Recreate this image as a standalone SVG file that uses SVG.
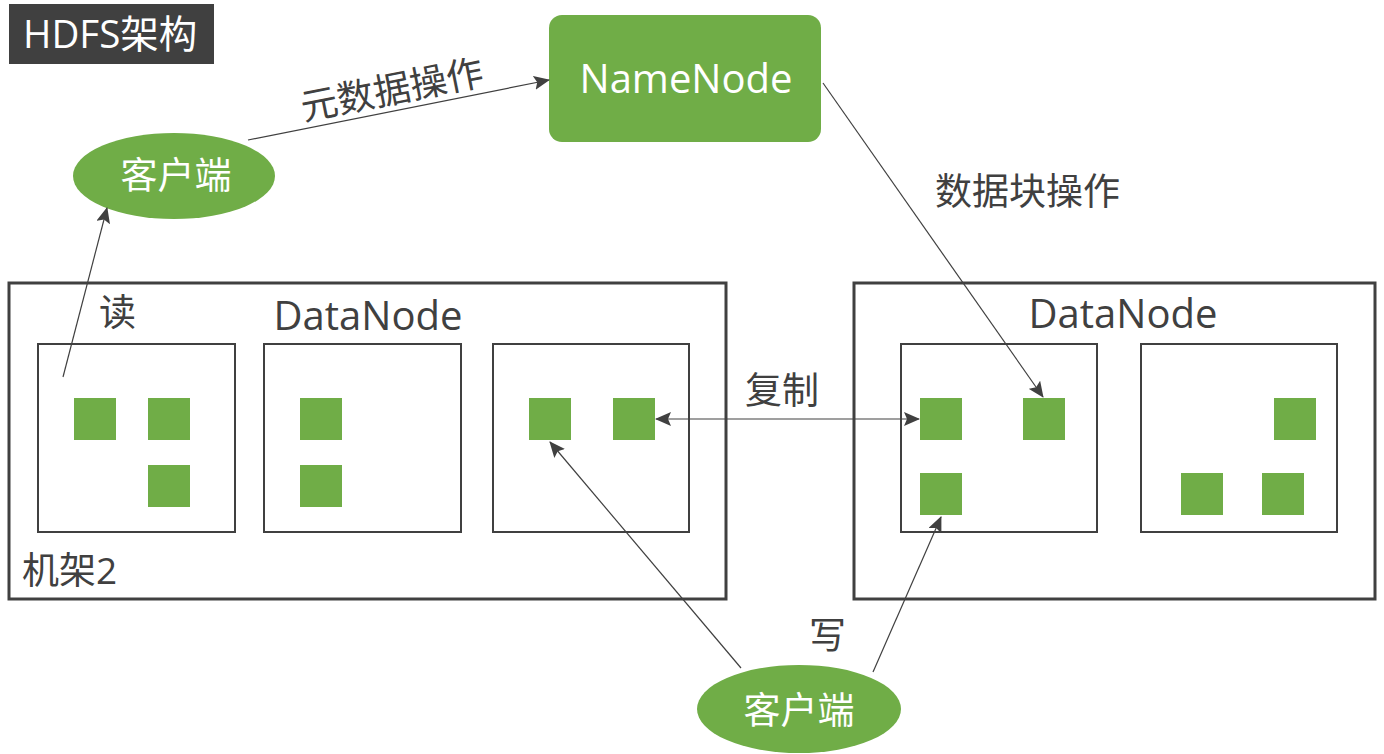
<svg xmlns="http://www.w3.org/2000/svg" width="1384" height="754" viewBox="0 0 1384 754">
<style>
text{font-family:"Open Sans","Noto Sans CJK SC",sans-serif}
.lbl{fill:#404040;font-size:37px}
.wt{fill:#fff;font-size:37px}
.big{font-size:40px}
.rack{fill:none;stroke:#404040;stroke-width:3}
.box{fill:none;stroke:#404040;stroke-width:2}
.blk{fill:#70AD47}
.conn{stroke:#404040;stroke-width:1.2;fill:none}
</style>
<defs>
<marker id="ah" markerUnits="userSpaceOnUse" markerWidth="16" markerHeight="14" refX="15" refY="7" orient="auto-start-reverse">
<path d="M0,0 L16,7 L0,14 L3,7 Z" fill="#404040"/>
</marker>
</defs>
<g id="title">
<rect x="9" y="4" width="205" height="60" fill="#404040"/>
<text x="23" y="48" fill="#fff" font-size="38.5">HDFS架构</text>
</g>
<g id="namenode">
<rect x="549" y="15" width="272" height="127" rx="13" fill="#70AD47"/>
<text x="686" y="93" class="wt big" text-anchor="middle">NameNode</text>
</g>
<g id="client-top">
<ellipse cx="174" cy="176" rx="101" ry="43" fill="#70AD47"/>
<text x="176" y="189" class="wt" text-anchor="middle">客户端</text>
</g>
<g id="client-bottom">
<ellipse cx="799" cy="709" rx="102" ry="44" fill="#70AD47"/>
<text x="799" y="724" class="wt" text-anchor="middle">客户端</text>
</g>
<g id="rack2">
<rect x="9" y="283" width="717" height="316" class="rack"/>
<text x="368" y="330" class="lbl big" text-anchor="middle">DataNode</text>
<text x="22" y="584" class="lbl">机架2</text>
</g>
<g id="rack-right">
<rect x="854" y="283" width="521" height="316" class="rack"/>
<text x="1123" y="328" class="lbl big" text-anchor="middle">DataNode</text>
</g>
<g id="dn1">
<rect x="38" y="344" width="197" height="188" class="box"/>
<rect x="74" y="398" width="42" height="42" class="blk"/>
<rect x="148" y="398" width="42" height="42" class="blk"/>
<rect x="148" y="465" width="42" height="42" class="blk"/>
</g>
<g id="dn2">
<rect x="264" y="344" width="197" height="188" class="box"/>
<rect x="300" y="398" width="42" height="42" class="blk"/>
<rect x="300" y="465" width="42" height="42" class="blk"/>
</g>
<g id="dn3">
<rect x="493" y="344" width="196" height="188" class="box"/>
<rect x="529" y="398" width="42" height="42" class="blk"/>
<rect x="613" y="398" width="42" height="42" class="blk"/>
</g>
<g id="dn4">
<rect x="901" y="344" width="196" height="188" class="box"/>
<rect x="920" y="398" width="42" height="42" class="blk"/>
<rect x="1023" y="398" width="42" height="42" class="blk"/>
<rect x="920" y="473" width="42" height="42" class="blk"/>
</g>
<g id="dn5">
<rect x="1141" y="344" width="196" height="188" class="box"/>
<rect x="1274" y="398" width="42" height="42" class="blk"/>
<rect x="1181" y="473" width="42" height="42" class="blk"/>
<rect x="1262" y="473" width="42" height="42" class="blk"/>
</g>
<g id="connectors">
<line x1="248" y1="140" x2="549" y2="80" class="conn" marker-end="url(#ah)"/>
<line x1="63" y1="377" x2="107" y2="208" class="conn" marker-end="url(#ah)"/>
<line x1="823" y1="83" x2="1043" y2="397" class="conn" marker-end="url(#ah)"/>
<line x1="656" y1="419" x2="919" y2="419" class="conn" marker-start="url(#ah)" marker-end="url(#ah)"/>
<line x1="741" y1="668" x2="550" y2="442" class="conn" marker-end="url(#ah)"/>
<line x1="873" y1="672" x2="941" y2="517" class="conn" marker-end="url(#ah)"/>
<text x="392" y="103" class="lbl" text-anchor="middle" transform="rotate(-11.3 392 90)">元数据操作</text>
<text x="935" y="205" class="lbl">数据块操作</text>
<text x="745" y="404" class="lbl">复制</text>
<text x="809" y="649" class="lbl">写</text>
<text x="99" y="326" class="lbl">读</text>
</g>
</svg>
